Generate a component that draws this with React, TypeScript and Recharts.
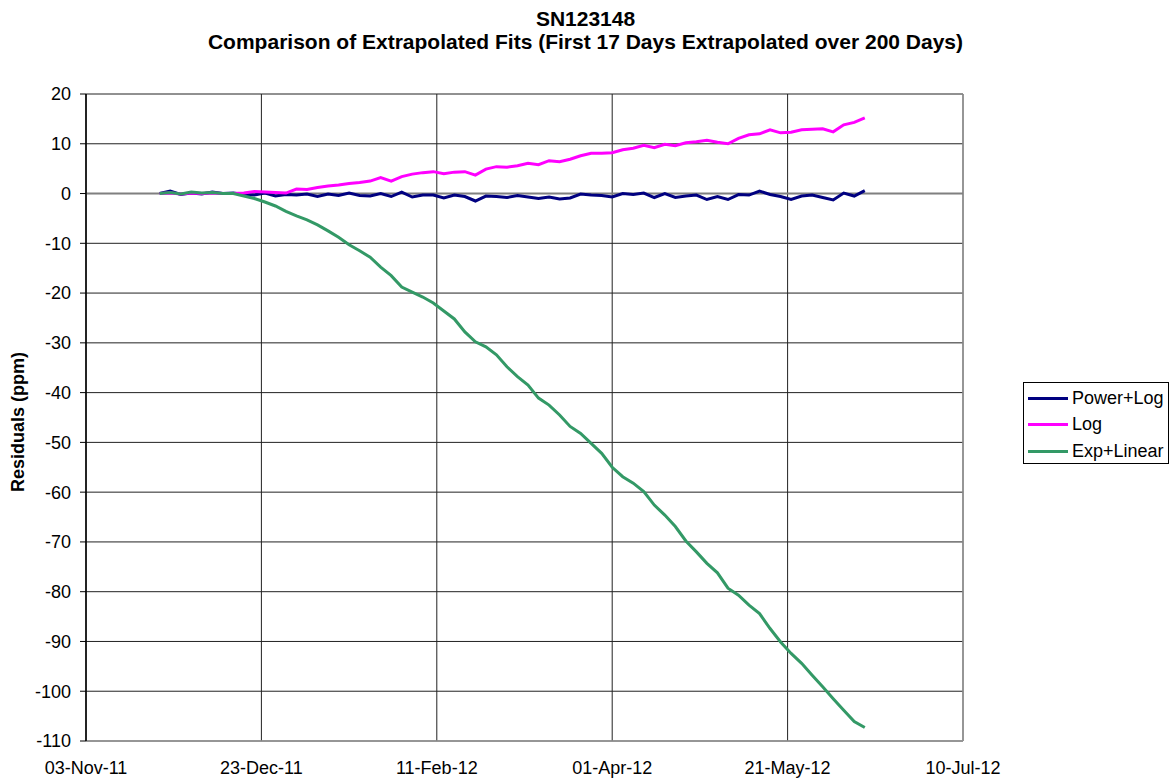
import { LineChart, Line, XAxis, YAxis, CartesianGrid, ReferenceLine } from "recharts";

// days after 03-Nov-11
const days = [
  21, 24, 27, 30, 33, 36, 39, 42, 45, 48, 51, 54, 57, 60, 63, 66, 69, 72, 75, 78,
  81, 84, 87, 90, 93, 96, 99, 102, 105, 108, 111, 114, 117, 120, 123, 126, 129, 132, 135, 138,
  141, 144, 147, 150, 153, 156, 159, 162, 165, 168, 171, 174, 177, 180, 183, 186, 189, 192, 195, 198,
  201, 204, 207, 210, 213, 216, 219, 222,
];

const powerLog = [
  0, 0.5, -0.2, 0.1, -0.1, 0.3, 0, 0.1, -0.2, -0.3, 0.1, -0.5, -0.2, -0.3, -0.1, -0.6, -0.1, -0.4, 0.1, -0.4,
  -0.5, 0, -0.6, 0.3, -0.7, -0.3, -0.3, -0.9, -0.3, -0.6, -1.5, -0.5, -0.6, -0.8, -0.4, -0.7, -1.0, -0.7, -1.1, -0.9,
  -0.1, -0.3, -0.4, -0.7, 0, -0.2, 0.1, -0.8, 0, -0.8, -0.5, -0.3, -1.2, -0.6, -1.2, -0.2, -0.3, 0.5, -0.2, -0.6,
  -1.2, -0.5, -0.3, -0.8, -1.3, 0.1, -0.5, 0.6,
];

const logFit = [
  0, 0.1, -0.1, 0.1, 0, 0.1, 0, 0, 0.1, 0.4, 0.3, 0.2, 0.1, 0.9, 0.8, 1.2, 1.5, 1.7, 2.0, 2.2,
  2.5, 3.2, 2.5, 3.4, 3.9, 4.2, 4.4, 4.0, 4.3, 4.4, 3.7, 4.9, 5.4, 5.3, 5.6, 6.1, 5.8, 6.6, 6.4, 6.9,
  7.6, 8.1, 8.1, 8.2, 8.8, 9.1, 9.7, 9.2, 9.9, 9.6, 10.2, 10.4, 10.7, 10.3, 10.0, 11.1, 11.8, 12.0, 12.8, 12.2,
  12.3, 12.8, 12.9, 13.0, 12.4, 13.8, 14.3, 15.2,
];

const expLinear = [
  0, 0.2, -0.1, 0.3, 0.1, 0.2, 0, 0, -0.5, -1.0, -1.7, -2.5, -3.6, -4.5, -5.3, -6.3, -7.5, -8.8, -10.3, -11.5,
  -12.8, -14.8, -16.5, -18.8, -19.8, -20.8, -22.0, -23.6, -25.2, -27.8, -29.8, -30.8, -32.4, -34.8, -36.8, -38.5, -41.1, -42.5, -44.5, -46.8,
  -48.2, -50.2, -52.2, -55.0, -56.9, -58.2, -59.9, -62.6, -64.6, -66.9, -69.8, -72.0, -74.3, -76.2, -79.3, -80.7, -82.7, -84.4, -87.4, -90.1,
  -92.4, -94.4, -96.8, -99.1, -101.5, -103.8, -106.1, -107.3,
];

const xTicks = [0, 50, 100, 150, 200, 250];
const yTicks = [20, 10, 0, -10, -20, -30, -40, -50, -60, -70, -80, -90, -100, -110];

const rows = days.map((d, i) => ({
  day: d,
  powerLog: powerLog[i],
  logFit: logFit[i],
  expLinear: expLinear[i],
}));

const MONTHS = ["Jan", "Feb", "Mar", "Apr", "May", "Jun", "Jul", "Aug", "Sep", "Oct", "Nov", "Dec"];
const fmtDay = (d: number) => {
  const dt = new Date(Date.UTC(2011, 10, 3) + d * 86400000);
  const dd = String(dt.getUTCDate()).padStart(2, "0");
  return `${dd}-${MONTHS[dt.getUTCMonth()]}-${String(dt.getUTCFullYear()).slice(2)}`;
};

const legendItems = [
  { name: "Power+Log", color: "#000080" },
  { name: "Log", color: "#FF00FF" },
  { name: "Exp+Linear", color: "#339966" },
];

export default function App() {
  return (
    <div
      style={{
        position: "absolute",
        left: 0,
        top: 0,
        width: 1171,
        height: 778,
        background: "#fff",
        fontFamily: "'Liberation Sans', Arial, sans-serif",
        color: "#000",
      }}
    >
      <div
        style={{
          position: "absolute",
          left: 0,
          top: 7,
          width: 1171,
          textAlign: "center",
          fontWeight: "bold",
          fontSize: 21,
          lineHeight: "23px",
        }}
      >
        <div style={{ paddingLeft: 0 }}>SN123148</div>
        <div>Comparison of Extrapolated Fits (First 17 Days Extrapolated over 200 Days)</div>
      </div>

      <div
        style={{
          position: "absolute",
          left: 18,
          top: 422,
          transform: "translate(-50%, -50%) rotate(-90deg)",
          fontWeight: "bold",
          fontSize: 18,
          whiteSpace: "nowrap",
        }}
      >
        Residuals (ppm)
      </div>

      <LineChart
        width={1171}
        height={778}
        data={rows}
        margin={{ top: 94, right: 208, bottom: 7, left: 0 }}
      >
        <CartesianGrid stroke="#222" strokeWidth={1} />
        <XAxis
          dataKey="day"
          type="number"
          domain={[0, 250]}
          ticks={xTicks}
          tickFormatter={fmtDay}
          axisLine={false}
          tickLine={false}
          height={30}
          tickSize={6}
          tickMargin={14}
          tick={{ fontSize: 18, fill: "#000" }}
          interval={0}
        />
        <YAxis
          type="number"
          domain={[-110, 20]}
          ticks={yTicks}
          width={86}
          tickSize={6}
          tickMargin={9}
          interval={0}
          axisLine={{ stroke: "#000", strokeWidth: 1.5 }}
          tickLine={{ stroke: "#000" }}
          tick={{ fontSize: 18, fill: "#000" }}
        />
        <ReferenceLine x={250} stroke="#999" strokeWidth={1.5} />
        <ReferenceLine y={-110} stroke="#999" strokeWidth={1.5} />
        <ReferenceLine y={0} stroke="#808080" strokeWidth={2} />
        <Line
          dataKey="powerLog"
          stroke="#000080"
          strokeWidth={3}
          dot={false}
          isAnimationActive={false}
        />
        <Line
          dataKey="logFit"
          stroke="#FF00FF"
          strokeWidth={3}
          dot={false}
          isAnimationActive={false}
        />
        <Line
          dataKey="expLinear"
          stroke="#339966"
          strokeWidth={3}
          dot={false}
          isAnimationActive={false}
        />
      </LineChart>

      <div
        style={{
          position: "absolute",
          left: 1023,
          top: 382,
          width: 146,
          height: 82,
          border: "1px solid #000",
          boxSizing: "border-box",
          paddingTop: 2,
        }}
      >
        {legendItems.map((it) => (
          <div
            key={it.name}
            style={{ display: "flex", alignItems: "center", height: 26.5, fontSize: 18 }}
          >
            <span
              style={{
                display: "inline-block",
                width: 40,
                height: 3,
                marginLeft: 4,
                marginRight: 4,
                background: it.color,
              }}
            />
            {it.name}
          </div>
        ))}
      </div>
    </div>
  );
}
